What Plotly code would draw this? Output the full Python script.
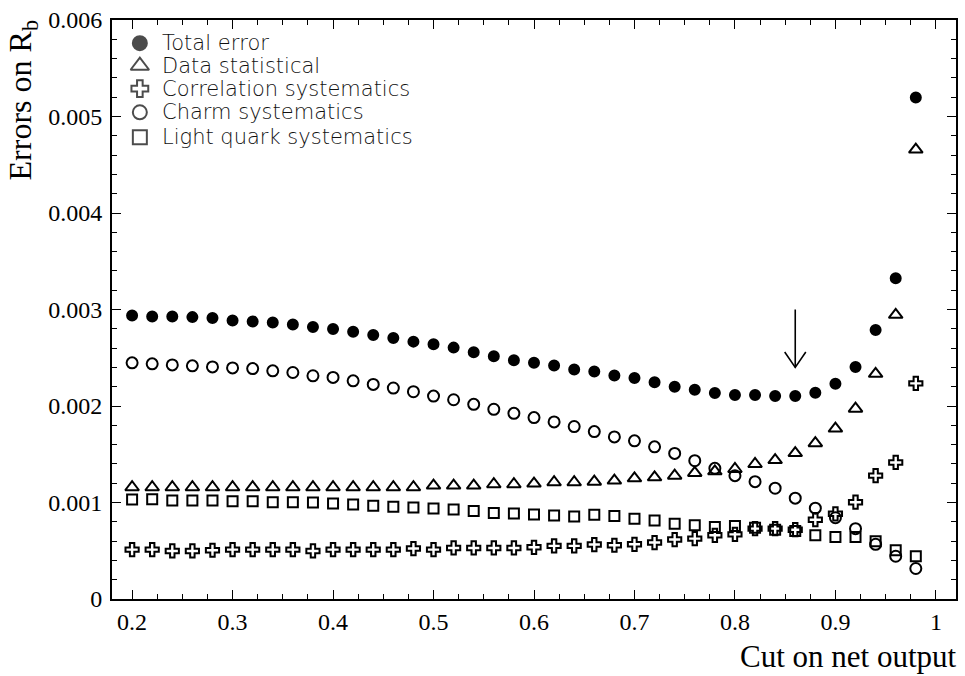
import plotly.graph_objects as go

# Cut values on the network output
cut = [0.20, 0.22, 0.24, 0.26, 0.28, 0.30, 0.32, 0.34, 0.36, 0.38,
       0.40, 0.42, 0.44, 0.46, 0.48, 0.50, 0.52, 0.54, 0.56, 0.58,
       0.60, 0.62, 0.64, 0.66, 0.68, 0.70, 0.72, 0.74, 0.76, 0.78,
       0.80, 0.82, 0.84, 0.86, 0.88, 0.90, 0.92, 0.94, 0.96, 0.98]

total_error = [0.002938, 0.002928, 0.002928, 0.002921, 0.002911, 0.002887, 0.002876, 0.002866, 0.002845, 0.002818,
               0.002797, 0.002770, 0.002735, 0.002704, 0.002667, 0.002639, 0.002605, 0.002557, 0.002515, 0.002474,
               0.002447, 0.002419, 0.002378, 0.002357, 0.002316, 0.002289, 0.002247, 0.002199, 0.002168, 0.002134,
               0.002113, 0.002113, 0.002103, 0.002103, 0.002137, 0.002230, 0.002405, 0.002787, 0.003323, 0.005196]

data_stat = [0.001158, 0.001158, 0.001158, 0.001158, 0.001158, 0.001158, 0.001158, 0.001158, 0.001158, 0.001158,
             0.001158, 0.001158, 0.001158, 0.001158, 0.001158, 0.001175, 0.001175, 0.001175, 0.001189, 0.001189,
             0.001196, 0.001210, 0.001210, 0.001216, 0.001227, 0.001251, 0.001261, 0.001278, 0.001306, 0.001323,
             0.001347, 0.001399, 0.001440, 0.001512, 0.001615, 0.001766, 0.001972, 0.002333, 0.002945, 0.004657]

corr_syst = [0.000512, 0.000512, 0.000498, 0.000498, 0.000505, 0.000512, 0.000512, 0.000512, 0.000512, 0.000498,
             0.000512, 0.000512, 0.000512, 0.000512, 0.000523, 0.000512, 0.000529, 0.000529, 0.000529, 0.000529,
             0.000536, 0.000550, 0.000550, 0.000564, 0.000557, 0.000567, 0.000585, 0.000616, 0.000626, 0.000660,
             0.000670, 0.000729, 0.000729, 0.000718, 0.000822, 0.000883, 0.001003, 0.001278, 0.001415, 0.002234]

charm_syst = [0.002447, 0.002437, 0.002426, 0.002416, 0.002405, 0.002395, 0.002388, 0.002364, 0.002347, 0.002313,
              0.002296, 0.002261, 0.002224, 0.002186, 0.002148, 0.002103, 0.002065, 0.002017, 0.001966, 0.001924,
              0.001880, 0.001835, 0.001787, 0.001735, 0.001680, 0.001639, 0.001577, 0.001509, 0.001433, 0.001354,
              0.001278, 0.001216, 0.001148, 0.001045, 0.000941, 0.000842, 0.000729, 0.000567, 0.000443, 0.000316]

light_syst = [0.001031, 0.001034, 0.001021, 0.001021, 0.001021, 0.001014, 0.001014, 0.001003, 0.001003, 0.001000,
              0.000990, 0.000979, 0.000966, 0.000955, 0.000948, 0.000938, 0.000928, 0.000911, 0.000890, 0.000886,
              0.000876, 0.000866, 0.000856, 0.000873, 0.000859, 0.000832, 0.000814, 0.000780, 0.000763, 0.000746,
              0.000756, 0.000739, 0.000718, 0.000704, 0.000660, 0.000643, 0.000643, 0.000598, 0.000505, 0.000443]

series_names = ["Total error", "Data statistical", "Correlation systematics",
                "Charm systematics", "Light quark systematics"]
series_values = [total_error, data_stat, corr_syst, charm_syst, light_syst]
series_symbols = ["circle", "triangle-up-open", "cross-open", "circle-open", "square-open"]
point_sizes = [10, 12, 11, 11, 10]
key_sizes = [14, 16, 14, 14, 14]

# Chosen working point, marked with an arrow
chosen_cut = 0.86
arrow_top = 0.00300
arrow_tip = 0.00240

# Key placement, as fractions of the plotting area
key_marker_x = 0.033
key_text_x = 0.0565
key_rows_y = [0.960, 0.921, 0.8815, 0.8405, 0.7975]

fig = go.Figure()
for name, vals, sym, sz in zip(series_names, series_values, series_symbols, point_sizes):
    fig.add_trace(go.Scatter(
        x=cut, y=vals, mode="markers", name=name, showlegend=False,
        marker=dict(symbol=sym, size=sz, color="black", line=dict(width=2, color="black")),
    ))

# Key symbols drawn on an overlay axis spanning the plot area
fig.add_trace(go.Scatter(
    x=[key_marker_x] * len(series_names), y=key_rows_y, mode="markers",
    xaxis="x2", yaxis="y2", showlegend=False, hoverinfo="skip",
    marker=dict(symbol=series_symbols, size=key_sizes, color="black",
                line=dict(width=2, color="black")),
))

serif = "Liberation Serif, Times New Roman, serif"
sans = "DejaVu Sans, sans-serif"

axis_common = dict(
    showgrid=False, zeroline=False, showline=True, linecolor="black", linewidth=2,
    mirror="allticks", ticks="inside", ticklen=9, tickwidth=1, tickcolor="black",
    tickfont=dict(family=serif, size=24, color="black"),
)

annotations = [
    dict(text="Cut on net output", xref="paper", yref="paper", x=1.0, y=-0.065,
         xanchor="right", yanchor="top", showarrow=False, xshift=3,
         font=dict(family=serif, size=31, color="black")),
    dict(text="Errors on R<sub>b</sub>", xref="paper", yref="paper", x=-0.133, y=1.004,
         xanchor="left", yanchor="top", textangle=-90, showarrow=False,
         font=dict(family=serif, size=32, color="black")),
]
for name, ry in zip(series_names, key_rows_y):
    annotations.append(dict(
        text=name, xref="x2", yref="y2", x=key_text_x, y=ry,
        xanchor="left", yanchor="middle", showarrow=False,
        font=dict(family=sans, size=21, color="#111111", weight=200),
    ))

fig.update_layout(
    width=965, height=676,
    margin=dict(l=112, r=7, t=16, b=77),
    paper_bgcolor="white", plot_bgcolor="white",
    showlegend=False,
    xaxis=dict(
        range=[0.18, 1.02], tickmode="array",
        tickvals=[0.2, 0.3, 0.4, 0.5, 0.6, 0.7, 0.8, 0.9, 1.0],
        ticktext=["0.2", "0.3", "0.4", "0.5", "0.6", "0.7", "0.8", "0.9", "1"],
        minor=dict(dtick=0.025, tick0=0.2, ticks="inside", ticklen=5, tickcolor="black", showgrid=False),
        **axis_common,
    ),
    yaxis=dict(
        range=[0, 0.006], tickmode="array",
        tickvals=[0, 0.001, 0.002, 0.003, 0.004, 0.005, 0.006],
        ticktext=["0", "0.001", "0.002", "0.003", "0.004", "0.005", "0.006"],
        minor=dict(dtick=0.0002, tick0=0, ticks="inside", ticklen=5, tickcolor="black", showgrid=False),
        ticklabelstandoff=3,
        **axis_common,
    ),
    xaxis2=dict(overlaying="x", range=[0, 1], visible=False, fixedrange=True),
    yaxis2=dict(overlaying="y", range=[0, 1], visible=False, fixedrange=True),
    annotations=annotations,
    shapes=[
        dict(type="line", xref="x", yref="y", x0=chosen_cut, x1=chosen_cut,
             y0=arrow_top, y1=arrow_tip, line=dict(color="black", width=1.6)),
        dict(type="path", xref="x", yref="y",
             path=f"M {chosen_cut - 0.0105} {arrow_tip + 0.00016} L {chosen_cut} {arrow_tip} "
                  f"L {chosen_cut + 0.0105} {arrow_tip + 0.00016}",
             line=dict(color="black", width=1.6)),
    ],
)

fig.write_html("out.html")
